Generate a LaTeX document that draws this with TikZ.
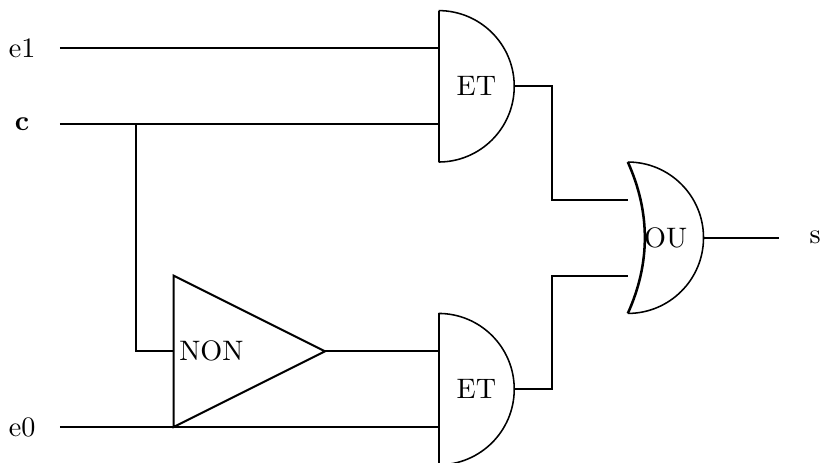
\documentclass[tikz,border=0pt]{standalone}
\begin{document}
\begin{tikzpicture}[x=13.44pt, y=13.44pt]
    \tikzstyle{wire} = [line width=0.7pt]
    \tikzstyle{gate} = [line width=0.55pt, line join=round]
    \useasboundingbox[clip] (-1.585, -0.95) rectangle (20.13, 11.28);

    % entrees et sortie
    \node (e1) at (-1, 10) {e1};
    \node (c) at (-1, 8) {\textbf{c}};
    \node (e0) at (-1, 0) {e0};
    \node (s) at (19.95, 5) {s};
    \coordinate (e1in) at (0, 10);
    \coordinate (cin) at (0, 8);
    \coordinate (e0in) at (0, 0);
    \coordinate (cbranch) at (2, 8);
    \coordinate (cdown) at (2, 2);

    % portes
    \draw[gate] (10, 7) arc (-90:90:2);
    \draw[wire] (10, 7) -- (10, 11);
    \draw[gate] (10, -1) arc (-90:90:2);
    \draw[wire] (10, -1) -- (10, 3);
    \draw[wire] (3, 0) -- (3, 4) -- (7, 2) -- cycle;
    \draw[gate] (15, 3) arc (-90:90:2);
    \draw[line width=0.9pt] (15, 7) .. controls (15.6, 5.67) and (15.6, 4.33) .. (15, 3);
    \node (etA) at (11, 9) {ET};
    \node (etB) at (11, 1) {ET};
    \node (non) at (4, 2) {NON};
    \node (ou) at (16, 5) {OU};

    % bornes des portes
    \coordinate (etAe1) at (10, 10);
    \coordinate (etAc) at (10, 8);
    \coordinate (etAs) at (12, 9);
    \coordinate (etBa) at (10, 2);
    \coordinate (etBb) at (10, 0);
    \coordinate (etBs) at (12, 1);
    \coordinate (nonin) at (3, 2);
    \coordinate (nons) at (7, 2);
    \coordinate (ouA) at (15, 6);
    \coordinate (ouB) at (15, 4);
    \coordinate (ous) at (17, 5);
    \coordinate (sout) at (19, 5);

    % fils
    \draw[wire] (e1in) -- (etAe1);
    \draw[wire] (cin) -- (etAc);
    \draw[wire] (e0in) -- (etBb);
    \draw[wire] (cbranch) -- (cdown) -- (nonin);
    \draw[wire] (nons) -- (etBa);
    \draw[wire] (etAs) -| (13, 6) -- (ouA);
    \draw[wire] (etBs) -| (13, 4) -- (ouB);
    \draw[wire] (ous) -- (sout);
\end{tikzpicture}
\end{document}
